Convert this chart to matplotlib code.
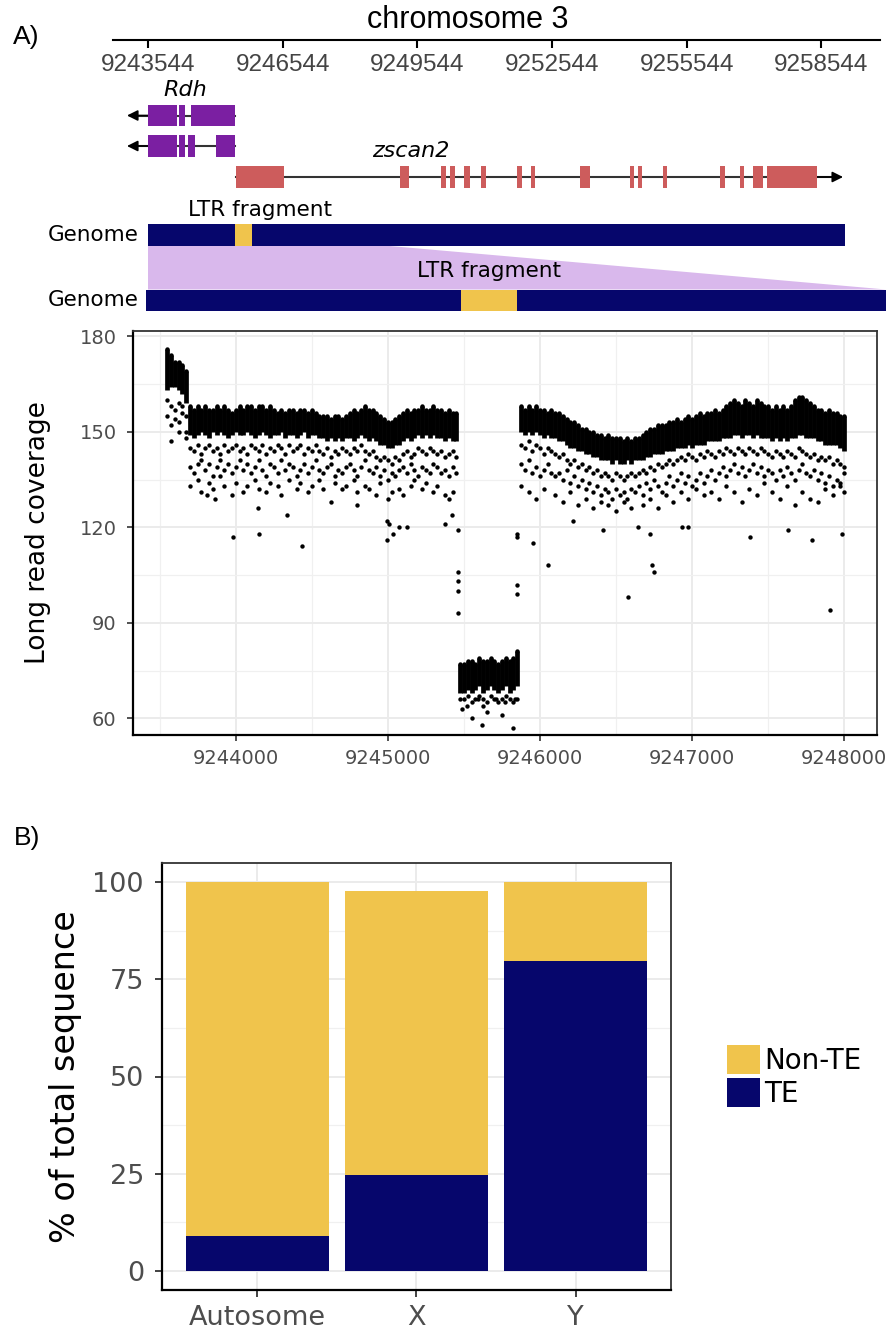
import numpy as np
import matplotlib
matplotlib.use("Agg")
import matplotlib.pyplot as plt
from matplotlib.patches import Rectangle, Polygon, Patch

nan = np.nan

# ---------------- Panel A (top): gene track, genomic coordinates ----------------
chrom_ticks = [9243544, 9246544, 9249544, 9252544, 9255544, 9258544]
rdh_tx1 = [(9243544, 9244177), (9244228, 9244362), (9244485, 9245477)]
rdh_tx2 = [(9243544, 9244177), (9244239, 9244351), (9244429, 9244574), (9245053, 9245477)]
rdh_start = 9243069
zscan2_exons = [(9245499, 9246569), (9249154, 9249355), (9250068, 9250180), (9250269, 9250380),
                (9250581, 9250715), (9250960, 9251071), (9251762, 9251874), (9252074, 9252164),
                (9253167, 9253390), (9254281, 9254370), (9254459, 9254549), (9255017, 9255106),
                (9256287, 9256399), (9256733, 9256822), (9257023, 9257246), (9257335, 9258450)]
zscan2_end = 9259029
genome_top = (9243537, 9259069)
ltr_top = (9245477, 9245856)
genome_bottom = (9243493, 9259988)
ltr_bottom = (9250510, 9251758)
zoom_edge = 9248929

# ---------------- Panel A (middle): long read coverage ----------------
# dense core of the point cloud per 25 bp bin (top / bottom of the solid band),
# plus sparser points below the band
left_x = np.arange(9243550, 9245451, 25)     # 77 bins
low_x = np.arange(9245475, 9245851, 25)      # 16 bins (LTR fragment)
right_x = np.arange(9245875, 9248001, 25)    # 86 bins

left_top = [176, 174, 172, 172, 171, 169,
            158, 157, 158, 157, 158, 157, 157, 158, 157, 158, 157, 156,
            157, 158, 157, 158, 158, 157, 158, 158, 157, 158, 157, 156,
            157, 156, 157, 157, 156, 157, 157, 156, 157, 156, 155, 155,
            155, 154, 155, 155, 154, 155, 156, 157, 156, 157, 158, 157,
            157, 156, 155, 154, 153, 153, 154, 155, 156, 157, 156, 157,
            157, 158, 157, 157, 158, 157, 157, 156, 157, 156, 156]
left_bot = [163, 164, 164, 163, 162, 159,
            149, 148, 149, 150, 149, 148, 150, 149, 150, 149, 148, 149,
            150, 149, 149, 150, 149, 148, 149, 150, 149, 148, 149, 149,
            150, 148, 149, 149, 148, 149, 150, 148, 149, 149, 148, 148,
            147, 148, 147, 148, 147, 148, 148, 147, 148, 149, 148, 147,
            148, 147, 146, 146, 145, 145, 146, 146, 147, 148, 147, 148,
            149, 148, 149, 148, 149, 148, 148, 147, 148, 147, 147]
left_s1 = [160, 158, 157, 159, 158, 155,
           145, 144, 146, 143, 145, 146, 144, 145, 143, 146, 144, 145,
           146, 144, 145, 143, 146, 145, 144, 146, 143, 145, 144, 146,
           145, 143, 146, 144, 145, 146, 143, 145, 144, 146, 144, 143,
           145, 142, 144, 143, 145, 144, 143, 145, 144, 146, 144, 143,
           144, 142, 141, 142, 141, 140, 142, 141, 143, 144, 142, 143,
           145, 144, 143, 145, 144, 143, 144, 142, 143, 144, 142]
left_s2 = [155, 152, 154, 153, 156, 150,
           139, 137, 140, 141, 138, 140, 136, 139, 141, 138, 140, 137,
           139, 141, 138, 140, 137, 139, 141, 138, 136, 140, 139, 137,
           141, 138, 140, 139, 136, 138, 140, 137, 139, 141, 138, 137,
           139, 140, 136, 138, 137, 139, 140, 138, 136, 139, 141, 138,
           137, 139, 136, 138, 135, 137, 136, 138, 139, 137, 140, 138,
           136, 139, 138, 137, 140, 139, 137, 138, 136, 139, 137]
left_s3 = [nan, 147, nan, 150, nan, 148,
           133, nan, 135, 131, nan, 134, 132, nan, 136, 133, nan, 130,
           134, nan, 131, 133, nan, 135, 132, nan, 131, 134, nan, 133,
           130, nan, 135, nan, 132, 134, nan, 131, 133, nan, 135, 132,
           nan, 128, 134, nan, 132, 133, nan, 135, 131, nan, 133, 132,
           nan, 130, 134, nan, 129, 131, nan, 132, 130, nan, 133, 135,
           nan, 132, 134, nan, 131, 133, nan, 130, 129, 131, nan]

low_top = [77, 77, 78, 78, 77, 79, 78, 78, 79, 78, 77, 78, 79, 78, 79, 81]
low_bot = [68, 68, 69, 68, 69, 70, 68, 69, 70, 69, 68, 69, 70, 68, 69, 70]
low_s1 = [66, 66, 67, 65, 66, 67, 66, 65, 67, 66, 65, 66, 67, 66, 65, 66]
low_s2 = [nan] * 16
low_s3 = [nan] * 16

right_top = [158, 157, 158, 157, 158, 157, 157, 156, 157, 156,
             156, 155, 154, 153, 153, 152, 151, 151, 150, 150,
             149, 149, 148, 149, 148, 148, 148, 147, 148, 147,
             148, 148, 149, 150, 151, 151, 152, 152, 152, 153,
             153, 154, 153, 154, 155, 154, 155, 156, 155, 156,
             156, 157, 156, 157, 158, 159, 160, 159, 158, 160,
             159, 158, 160, 159, 158, 158, 157, 158, 157, 158,
             157, 158, 160, 161, 161, 160, 159, 158, 157, 157,
             156, 157, 156, 156, 155, 155]
right_bot = [150, 149, 150, 149, 150, 149, 148, 149, 148, 148,
             147, 147, 146, 145, 145, 144, 144, 143, 143, 142,
             142, 141, 141, 141, 140, 141, 140, 140, 141, 140,
             141, 141, 141, 142, 142, 143, 143, 143, 144, 144,
             144, 145, 145, 145, 146, 145, 146, 146, 146, 147,
             147, 147, 147, 148, 148, 148, 149, 149, 148, 149,
             149, 148, 149, 148, 148, 148, 147, 148, 147, 148,
             147, 148, 148, 149, 149, 148, 148, 148, 147, 147,
             146, 146, 146, 146, 145, 144]
right_s1 = [146, 145, 147, 144, 146, 145, 143, 145, 144, 143,
            142, 143, 141, 140, 141, 139, 140, 138, 139, 137,
            138, 136, 137, 136, 135, 137, 136, 135, 136, 137,
            136, 137, 138, 137, 139, 138, 140, 139, 140, 141,
            140, 141, 142, 141, 143, 142, 141, 143, 142, 144,
            143, 142, 144, 143, 145, 144, 143, 145, 144, 143,
            145, 144, 143, 145, 144, 143, 142, 144, 143, 142,
            144, 143, 142, 145, 144, 143, 142, 143, 141, 142,
            141, 142, 140, 141, 140, 139]
right_s2 = [140, 138, 141, 137, 139, 136, 138, 140, 137, 136,
            137, 135, 138, 134, 136, 133, 135, 132, 134, 131,
            133, 130, 132, 131, 129, 132, 130, 131, 129, 132,
            131, 133, 130, 134, 132, 135, 133, 131, 134, 136,
            133, 135, 137, 134, 136, 133, 135, 137, 134, 136,
            138, 135, 137, 139, 136, 138, 140, 137, 139, 136,
            138, 140, 137, 139, 136, 138, 137, 135, 138, 136,
            139, 137, 135, 138, 140, 137, 136, 138, 135, 137,
            134, 136, 133, 135, 134, 137]
right_s3 = [133, nan, 131, nan, 129, nan, 132, nan, nan, 130,
            nan, 128, nan, 131, nan, 127, nan, 129, nan, 126,
            nan, 128, nan, 127, nan, 125, nan, 128, nan, 126,
            nan, nan, 127, nan, 129, nan, 126, nan, 130, nan,
            128, nan, 131, nan, 129, nan, 132, nan, 130, nan,
            131, nan, 129, nan, 133, nan, 131, nan, 128, nan,
            132, nan, 130, nan, 134, nan, 131, nan, 129, nan,
            133, nan, 127, nan, 131, nan, 129, nan, 128, nan,
            132, nan, 130, nan, 133, 131]

# isolated points
out_x = [9243984, 9244155, 9244149, 9244337, 9244436, 9243865, 9243810, 9244800, 9244996, 9244996,
         9245010, 9245036, 9245075, 9245124, 9245378, 9245424, 9245463, 9245463, 9245463, 9245463, 9245463,
         9245489, 9245518, 9245553, 9245594, 9245621, 9245627, 9245650, 9245709, 9245748, 9245770,
         9245821, 9245836,
         9245847, 9245847, 9245847, 9245847, 9245952, 9246055, 9246219, 9246412, 9246580, 9246646,
         9246723, 9246738, 9246751, 9246931, 9246975, 9247383, 9247632, 9247786, 9247906, 9247987]
out_y = [117, 118, 126, 124, 114, 129, 130, 127, 116, 122,
         121, 118, 120, 120, 121, 124, 119, 106, 103, 100, 93,
         63, 64, 60, 66, 58, 64, 62, 66, 61, 65,
         57, 66,
         118, 117, 102, 99, 115, 108, 122, 119, 98, 120,
         118, 108, 106, 120, 120, 117, 119, 116, 94, 118]

cov_ticks = [60, 90, 120, 150, 180]
pos_ticks = [9244000, 9245000, 9246000, 9247000, 9248000]

# ---------------- Panel B ----------------
categories = ["Autosome", "X", "Y"]
te_pct = [9.0, 24.5, 79.7]
non_te_pct = [91.0, 73.4, 20.3]

# ---------------- styling ----------------
plt.rcParams['font.family'] = ['DejaVu Sans']
NAVY = '#06066C'
YELLOW = '#F0C44C'
PURPLE = '#7B1FA2'
RED = '#CD5C5C'
LAV = '#D9B8EC'
GRID = '#EBEBEB'
TICKC = '#4D4D4D'

W, H = 893, 1331
fig = plt.figure(figsize=(W / 100, H / 100), dpi=100)


def fx(px):
    return px / W


def fy(py):
    return 1 - py / H


# ======== gene track axes (y in pixel-like units, x in bp) ========
axg = fig.add_axes([0, fy(330), 1, 330 / H])
axg.set_xlim(9240238, 9260143)
axg.set_ylim(330, 0)
axg.patch.set_visible(False)
for s in ['left', 'right', 'top']:
    axg.spines[s].set_visible(False)
axg.spines['bottom'].set_position(('data', 40))
axg.spines['bottom'].set_bounds(9242757, 9259858)
axg.spines['bottom'].set_linewidth(1.5)
axg.set_xticks(chrom_ticks)
axg.set_xticklabels([str(t) for t in chrom_ticks])
axg.tick_params(axis='x', direction='out', length=6, width=1.5, pad=4,
                labelsize=17.5, labelcolor='#444444')
for lbl in axg.get_xticklabels():
    lbl.set_fontfamily('Liberation Sans')
axg.set_yticks([])


def draw_tx(ax, exons, yc, h, color, tip):
    left = min(e[0] for e in exons)
    right = max(e[1] for e in exons)
    if tip < left:
        ax.plot([tip + 250, right], [yc, yc], color='#333333', lw=1.5, zorder=1)
        ax.annotate('', xy=(tip, yc), xytext=(left, yc),
                    arrowprops=dict(arrowstyle='-|>', color='black', lw=1.2,
                                    mutation_scale=16, shrinkA=0, shrinkB=0), zorder=1)
    else:
        ax.plot([left, tip - 250], [yc, yc], color='#333333', lw=1.5, zorder=1)
        ax.annotate('', xy=(tip, yc), xytext=(right, yc),
                    arrowprops=dict(arrowstyle='-|>', color='black', lw=1.2,
                                    mutation_scale=16, shrinkA=0, shrinkB=0), zorder=1)
    for s, e in exons:
        ax.add_patch(Rectangle((s, yc - h / 2), e - s, h, fc=color, ec='none', zorder=2))


draw_tx(axg, rdh_tx1, 115.5, 21, PURPLE, rdh_start)
draw_tx(axg, rdh_tx2, 146, 22, PURPLE, rdh_start)
draw_tx(axg, zscan2_exons, 177, 22, RED, zscan2_end)
axg.text(9244373, 90, 'Rdh', style='italic', fontsize=16, ha='center', va='center')
axg.text(9249400, 151, 'zscan2', style='italic', fontsize=16, ha='center', va='center')

# genome comparison illustration
axg.add_patch(Polygon([(genome_top[0], 246), (zoom_edge, 246), (genome_bottom[1], 289.5),
                       (genome_top[0], 289.5)], closed=True, fc=LAV, ec='none', zorder=1))
axg.add_patch(Rectangle((genome_top[0], 224), genome_top[1] - genome_top[0], 22, fc=NAVY, ec='none', zorder=2))
axg.add_patch(Rectangle((ltr_top[0], 224), ltr_top[1] - ltr_top[0], 22, fc=YELLOW, ec='none', zorder=3))
axg.add_patch(Rectangle((genome_bottom[0], 289.5), genome_bottom[1] - genome_bottom[0], 21.5,
                        fc=NAVY, ec='none', zorder=2, clip_on=False))
axg.add_patch(Rectangle((ltr_bottom[0], 289.5), ltr_bottom[1] - ltr_bottom[0], 21.5, fc=YELLOW,
                        ec='none', zorder=3))
axg.text(9243317, 235, 'Genome', fontsize=15.5, ha='right', va='center')
axg.text(9243317, 300, 'Genome', fontsize=15.5, ha='right', va='center')
axg.text(9246039, 210, 'LTR fragment', fontsize=15.5, ha='center', va='center')
axg.text((ltr_bottom[0] + ltr_bottom[1]) / 2, 271, 'LTR fragment', fontsize=15.5,
         ha='center', va='center')

fig.text(fx(468), fy(20), 'chromosome 3', fontsize=22, ha='center', va='center',
         family='Liberation Sans')
fig.text(fx(26), fy(37), 'A)', fontsize=19, ha='center', va='center', family='Liberation Sans')
fig.text(fx(27), fy(838), 'B)', fontsize=19, ha='center', va='center', family='Liberation Sans')

# ======== coverage scatter ========
ax = fig.add_axes([fx(133.3), fy(735), (876.7 - 133.3) / W, (735 - 331) / H])
ax.set_xlim(9243327, 9248213)
ax.set_ylim(54.75, 181.66)
ax.set_axisbelow(True)

xs = np.concatenate([left_x, low_x, right_x])
tops = np.array(left_top + low_top + right_top, dtype=float)
bots = np.array(left_bot + low_bot + right_bot, dtype=float)
s1 = np.array(left_s1 + low_s1 + right_s1, dtype=float)
s2 = np.array(left_s2 + low_s2 + right_s2, dtype=float)
s3 = np.array(left_s3 + low_s3 + right_s3, dtype=float)

ax.vlines(xs, bots, tops, colors='black', lw=3.4, zorder=3)
ms = 10
ax.scatter(xs, tops, s=ms, c='black', lw=0, zorder=3)
for row in (s1, s2, s3):
    ax.scatter(xs, row, s=ms, c='black', lw=0, zorder=3)
ax.scatter(out_x, out_y, s=ms, c='black', lw=0, zorder=3)

ax.set_xticks(pos_ticks)
ax.set_xticklabels([str(t) for t in pos_ticks])
ax.set_xticks([9243500, 9244500, 9245500, 9246500, 9247500], minor=True)
ax.set_yticks(cov_ticks)
ax.set_yticks([75, 105, 135, 165], minor=True)
ax.grid(which='major', color=GRID, lw=1.4)
ax.grid(which='minor', color='#F0F0F0', lw=0.9)
ax.tick_params(which='minor', length=0)
ax.tick_params(which='major', length=4, width=1.2, color='#333333', labelsize=14,
               labelcolor=TICKC)
ax.tick_params(axis='y', pad=8)
ax.tick_params(axis='x', pad=6)
for s in ['left', 'bottom']:
    ax.spines[s].set_color('black')
    ax.spines[s].set_linewidth(1.6)
for s in ['top', 'right']:
    ax.spines[s].set_color('#333333')
    ax.spines[s].set_linewidth(1.3)
ax.set_ylabel('Long read coverage', fontsize=19, va='center')
ax.yaxis.set_label_coords((38 - 133.3) / (876.7 - 133.3), 0.5)

# ======== Panel B: stacked bars ========
axb = fig.add_axes([fx(162), fy(1290), (671 - 162) / W, (1290 - 863) / H])
pos = np.arange(1, len(categories) + 1)
b_te = axb.bar(pos, te_pct, width=0.9, color=NAVY, zorder=2)
b_non = axb.bar(pos, non_te_pct, bottom=te_pct, width=0.9, color=YELLOW, zorder=2)
axb.set_xlim(0.4, 3.6)
axb.set_ylim(-5, 105)
axb.set_axisbelow(True)
axb.set_xticks(pos)
axb.set_xticklabels(categories)
axb.set_yticks([0, 25, 50, 75, 100])
axb.set_yticks([12.5, 37.5, 62.5, 87.5], minor=True)
axb.grid(which='major', color=GRID, lw=1.4)
axb.grid(which='minor', axis='y', color='#F0F0F0', lw=0.9)
axb.tick_params(which='minor', length=0)
axb.tick_params(which='major', length=5, width=1.3, color='#333333', labelsize=19.5,
                labelcolor=TICKC)
axb.tick_params(axis='y', pad=8)
axb.tick_params(axis='x', pad=6)
for s in ['left', 'bottom']:
    axb.spines[s].set_color('black')
    axb.spines[s].set_linewidth(1.6)
for s in ['top', 'right']:
    axb.spines[s].set_color('#333333')
    axb.spines[s].set_linewidth(1.3)
axb.set_ylabel('% of total sequence', fontsize=24, va='center')
axb.yaxis.set_label_coords((66 - 162) / (671 - 162), 0.5)

fig.legend(handles=[Patch(facecolor=YELLOW, edgecolor='none', label='Non-TE'),
                    Patch(facecolor=NAVY, edgecolor='none', label='TE')],
           loc='center left', bbox_to_anchor=(fx(727), fy(1076.5)), frameon=False,
           fontsize=20, handlelength=1.19, handleheight=1.22, handletextpad=0.15,
           labelspacing=0.1, borderpad=0, borderaxespad=0)

fig.savefig('out.png', dpi=100)
